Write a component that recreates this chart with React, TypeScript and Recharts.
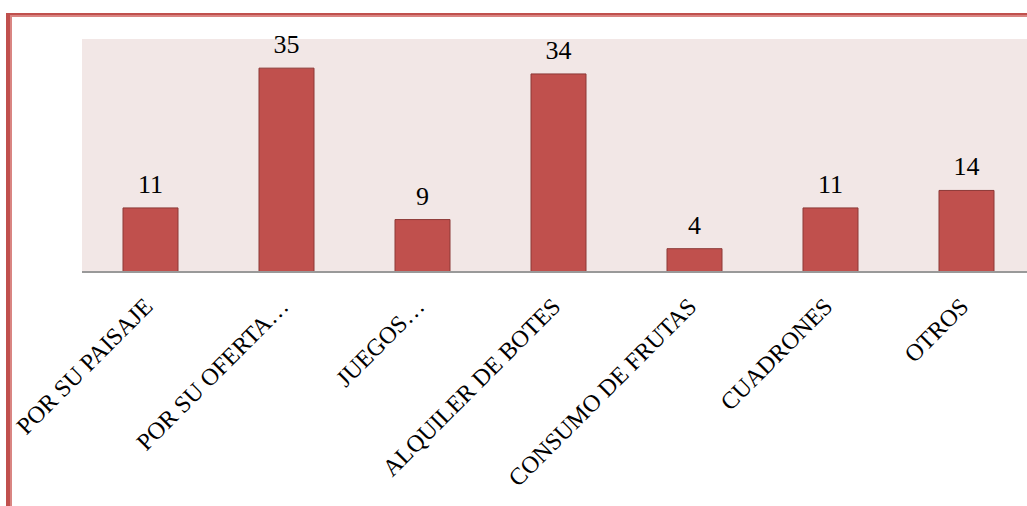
import React from 'react';
import { BarChart, Bar, XAxis, YAxis, CartesianGrid, LabelList } from 'recharts';

const categories = [
  'POR SU PAISAJE',
  'POR SU OFERTA…',
  'JUEGOS…',
  'ALQUILER DE BOTES',
  'CONSUMO DE FRUTAS',
  'CUADRONES',
  'OTROS',
];
const values = [11, 35, 9, 34, 4, 11, 14];

const data = categories.map((name, i) => ({ name, value: values[i] }));

const FONT = 'Liberation Serif, DejaVu Serif, serif';

const CategoryTick = (props: any) => {
  const { x, y, payload } = props;
  return (
    <g transform={`translate(${x + 4},${y + 28}) rotate(-45)`}>
      <text x={0} y={0} textAnchor="end" style={{ fontFamily: FONT, fontSize: 24 }} fill="#000">
        {payload.value}
      </text>
    </g>
  );
};

export default function App() {
  return (
    <div style={{ position: 'absolute', left: 0, top: 0, width: 1027, height: 506, overflow: 'hidden', background: '#fff' }}>
      {/* frame: red rule on top and left */}
      <div style={{ position: 'absolute', left: 6, top: 13, width: 1030, height: 500, borderTop: '2px solid #C0504D', borderLeft: '4px solid #C0504D' }}>
        <div style={{ width: '100%', height: '100%', borderTop: '2px solid #D98582', borderLeft: '2px solid #D98582' }} />
      </div>
      <div style={{ position: 'absolute', left: 0, top: 0 }}>
        <BarChart
          width={1040}
          height={506}
          data={data}
          margin={{ top: 39, right: 6, bottom: 0, left: 82 }}
          barSize={55}
        >
          <CartesianGrid horizontal={false} vertical={false} fill="#F2E7E6" />
          <XAxis
            dataKey="name"
            height={234}
            interval={0}
            tickLine={false}
            axisLine={{ stroke: '#999', strokeWidth: 2 }}
            tick={<CategoryTick />}
          />
          <YAxis hide domain={[0, 40]} />
          <Bar dataKey="value" fill="#C0504D" stroke="#8C3836" strokeWidth={1} isAnimationActive={false}>
            <LabelList dataKey="value" position="top" offset={15} fontFamily={FONT} fontSize={26} fill="#000" />
          </Bar>
        </BarChart>
      </div>
    </div>
  );
}
